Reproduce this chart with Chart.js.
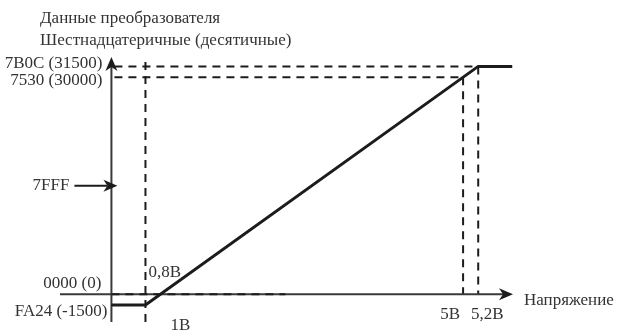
<!DOCTYPE html>
<html>
<head>
<meta charset="utf-8">
<script src="https://cdn.jsdelivr.net/npm/chart.js@4.4.1/dist/chart.umd.min.js"></script>
<style>
    html, body { margin: 0; padding: 0; background: #fff; }
    #wrap { width: 619px; height: 330px; position: relative; }
</style>
</head>
<body>
<div id="wrap"><canvas id="convChart"></canvas></div>
<script>
// Transfer line: input voltage (V) -> converter code
const voltage = [0.35, 0.8, 5.2, 5.65];
const code = [-1500, -1500, 31500, 31500];

// Voltage ticks along the horizontal axis
const voltTicks = [0.8, 1, 5, 5.2];
const voltLabels = ['0,8В', '1В', '5В', '5,2В'];

// Code ticks along the vertical axis
const codeTicks = [31500, 30000, 0, -1500];
const codeLabels = ['7B0C (31500)', '7530 (30000)', '0000 (0)', 'FA24 (-1500)'];

// Marker pointing at the vertical axis
const markerLabel = '7FFF';
const markerAt = 15000;

const titleLines = ['Данные преобразователя', 'Шестнадцатеричные (десятичные)'];
const xTitle = 'Напряжение';

const AXIS_V = 0.35;          // where the vertical axis crosses
const INK = '#1c1c1c';
const TEXT = '#333';
const FONT = '17px "Liberation Serif", serif';

function arrow(ctx, x, y, dir) {
    ctx.save();
    ctx.translate(x, y);
    ctx.rotate(dir);
    ctx.beginPath();
    ctx.moveTo(0, 0);
    ctx.lineTo(-14, -6);
    ctx.lineTo(-10, 0);
    ctx.lineTo(-14, 6);
    ctx.closePath();
    ctx.fillStyle = INK;
    ctx.fill();
    ctx.restore();
}

function dashed(ctx, x1, y1, x2, y2) {
    ctx.save();
    ctx.setLineDash([8, 6]);
    ctx.lineWidth = 2;
    ctx.strokeStyle = INK;
    ctx.beginPath();
    ctx.moveTo(x1, y1);
    ctx.lineTo(x2, y2);
    ctx.stroke();
    ctx.restore();
}

const diagram = {
    id: 'diagram',
    beforeDatasetsDraw(chart) {
        const ctx = chart.ctx;
        const xs = chart.scales.x, ys = chart.scales.y;
        const area = chart.chartArea;
        const ax = xs.getPixelForValue(AXIS_V);
        const y0 = ys.getPixelForValue(0);

        // dashed guides
        const yTop = ys.getPixelForValue(31500);
        const y30 = ys.getPixelForValue(30000);
        const x08 = xs.getPixelForValue(0.8);
        const x5 = xs.getPixelForValue(5);
        const x52 = xs.getPixelForValue(5.2);
        dashed(ctx, ax + 3, yTop, x52, yTop);
        dashed(ctx, ax + 3, y30, x5, y30);
        dashed(ctx, x08, ys.getPixelForValue(32100), x08, area.bottom);
        dashed(ctx, x5, y30, x5, y0);
        dashed(ctx, x52, yTop, x52, y0);

        // axes
        ctx.save();
        ctx.strokeStyle = '#3a3a3a';
        ctx.lineWidth = 2;
        ctx.beginPath();
        ctx.moveTo(area.left, y0);
        ctx.lineTo(area.right - 8, y0);
        ctx.moveTo(ax, area.bottom);
        ctx.lineTo(ax, area.top + 8);
        ctx.stroke();
        ctx.restore();
        dashed(ctx, ax, y0, xs.getPixelForValue(2.65), y0);
        arrow(ctx, area.right, y0, 0);
        arrow(ctx, ax, area.top, -Math.PI / 2);

        // 7FFF marker
        const ym = ys.getPixelForValue(markerAt);
        ctx.save();
        ctx.strokeStyle = INK;
        ctx.lineWidth = 2;
        ctx.beginPath();
        ctx.moveTo(ax - 37, ym);
        ctx.lineTo(ax - 4, ym);
        ctx.stroke();
        ctx.restore();
        arrow(ctx, ax + 6, ym, 0);

        // texts
        ctx.save();
        ctx.font = FONT;
        ctx.fillStyle = TEXT;
        ctx.textBaseline = 'middle';
        ctx.textAlign = 'left';
        ctx.fillText(titleLines[0], 40, 19);
        ctx.fillText(titleLines[1], 40, 41);
        ctx.fillText(xTitle, area.right + 11, y0 + 6);

        ctx.textAlign = 'right';
        ctx.fillText(markerLabel, ax - 42, ym);
        const codeOffsets = [-3, 3, -11, 7];
        const codeRight = [9, 9, 10, 4];
        codeTicks.forEach((v, i) => {
            ctx.fillText(codeLabels[i], ax - codeRight[i], ys.getPixelForValue(v) + codeOffsets[i]);
        });

        const vOffsets = [
            { dx: 3, y: y0 - 22, align: 'left' },
            { dx: 10, y: y0 + 31, align: 'left' },
            { dx: -3, y: y0 + 20, align: 'right' },
            { dx: 9, y: y0 + 20, align: 'center' }
        ];
        voltTicks.forEach((v, i) => {
            const o = vOffsets[i];
            ctx.textAlign = o.align;
            ctx.fillText(voltLabels[i], xs.getPixelForValue(v) + o.dx, o.y);
        });
        ctx.restore();
    }
};

new Chart(document.getElementById('convChart'), {
    type: 'line',
    data: {
        datasets: [{
            data: voltage.map((v, i) => ({ x: v, y: code[i] })),
            borderColor: INK,
            borderWidth: 3,
            pointRadius: 0,
            tension: 0,
            fill: false
        }]
    },
    options: {
        responsive: true,
        maintainAspectRatio: false,
        animation: false,
        layout: { padding: { left: 60, right: 106, top: 57, bottom: 8 } },
        scales: {
            x: { type: 'linear', display: false, min: -0.33, max: 5.66 },
            y: { type: 'linear', display: false, min: -3850, max: 32800 }
        },
        plugins: {
            legend: { display: false },
            tooltip: { enabled: false }
        }
    },
    plugins: [diagram]
});
</script>
</body>
</html>
